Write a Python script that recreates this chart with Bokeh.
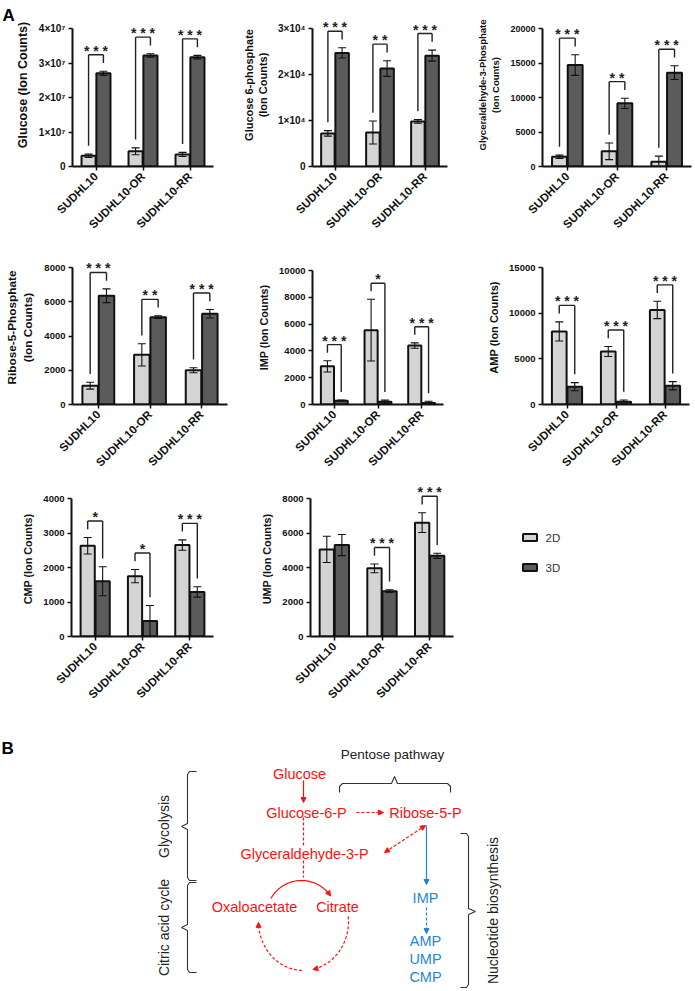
import math
import numpy as np
from bokeh.plotting import figure
from bokeh.models import (ColumnDataSource, FactorRange, Range1d, FixedTicker,
                          Label, Arrow, NormalHead)
from bokeh.transform import dodge
from bokeh.layouts import row, column
from bokeh.embed import file_html
from bokeh.resources import INLINE
from bokeh.core.properties import value

FONT = "Liberation Sans"
LIGHT = "#d4d4d4"
DARK = "#5b5b5b"
INK = "#111111"
RED = "#ff1010"
BLUE = "#1f86d5"
GREY_TXT = "#222222"

# ---------------- data ----------------
categories = ["SUDHL10", "SUDHL10-OR", "SUDHL10-RR"]
groups = ["2D", "3D"]

glucose_2d = [3.1e6, 4.4e6, 3.5e6]
glucose_2d_sem = [0.5e6, 1.0e6, 0.6e6]
glucose_3d = [2.70e7, 3.22e7, 3.17e7]
glucose_3d_sem = [0.06e7, 0.05e7, 0.05e7]
glucose_sig = ["***", "***", "***"]
glucose_ticks = [0, 1e7, 2e7, 3e7, 4e7]
glucose_tick_labels = ["0", "1×10⁷", "2×10⁷", "3×10⁷", "4×10⁷"]

g6p_2d = [7200, 7400, 9800]
g6p_2d_sem = [600, 2500, 400]
g6p_3d = [24700, 21300, 24100]
g6p_3d_sem = [1100, 1700, 1200]
g6p_sig = ["***", "**", "***"]
g6p_ticks = [0, 1e4, 2e4, 3e4]
g6p_tick_labels = ["0", "1×10⁴", "2×10⁴", "3×10⁴"]

ga3p_2d = [1400, 2200, 700]
ga3p_2d_sem = [250, 1200, 800]
ga3p_3d = [14700, 9150, 13600]
ga3p_3d_sem = [1500, 750, 1000]
ga3p_sig = ["***", "**", "***"]
ga3p_ticks = [0, 5000, 10000, 15000, 20000]
ga3p_tick_labels = ["0", "5000", "10000", "15000", "20000"]

r5p_2d = [1100, 2900, 2000]
r5p_2d_sem = [200, 650, 150]
r5p_3d = [6350, 5100, 5300]
r5p_3d_sem = [400, 80, 250]
r5p_sig = ["***", "**", "***"]
r5p_ticks = [0, 2000, 4000, 6000, 8000]
r5p_tick_labels = ["0", "2000", "4000", "6000", "8000"]

imp_2d = [2850, 5550, 4400]
imp_2d_sem = [420, 2300, 200]
imp_3d = [280, 200, 120]
imp_3d_sem = [60, 130, 120]
imp_sig = ["***", "*", "***"]
imp_ticks = [0, 2000, 4000, 6000, 8000, 10000]
imp_tick_labels = ["0", "2000", "4000", "6000", "8000", "10000"]

amp_2d = [8000, 5800, 10350]
amp_2d_sem = [1050, 550, 950]
amp_3d = [1950, 300, 2050]
amp_3d_sem = [450, 200, 450]
amp_sig = ["***", "***", "***"]
amp_ticks = [0, 5000, 10000, 15000]
amp_tick_labels = ["0", "5000", "10000", "15000"]

cmp_2d = [2630, 1750, 2650]
cmp_2d_sem = [240, 190, 150]
cmp_3d = [1600, 450, 1290]
cmp_3d_sem = [420, 450, 150]
cmp_sig = ["*", "*", "***"]
cmp_ticks = [0, 1000, 2000, 3000, 4000]
cmp_tick_labels = ["0", "1000", "2000", "3000", "4000"]

ump_2d = [5050, 3950, 6600]
ump_2d_sem = [760, 250, 570]
ump_3d = [5300, 2630, 4680]
ump_3d_sem = [610, 80, 150]
ump_sig = ["", "***", "***"]
ump_ticks = [0, 2000, 4000, 6000, 8000]
ump_tick_labels = ["0", "2000", "4000", "6000", "8000"]

OFF = 0.158
BW = 0.3


def bar_chart(ylabel, label_size, tick_size, m2, s2, m3, s3, sig, ticks, tick_labels,
              w, bl, br, fig_top, fig_h, axis_top, baseline):
    ymax = ticks[-1]
    frame_top = fig_top + 3
    y_end = ymax * (baseline - frame_top) / (baseline - axis_top)
    p = figure(width=w, height=fig_h,
               x_range=FactorRange(factors=categories),
               y_range=Range1d(0, y_end),
               output_backend="svg", toolbar_location=None,
               min_border_left=bl, min_border_right=br,
               min_border_top=3, min_border_bottom=fig_top + fig_h - baseline)
    p.xgrid.visible = False
    p.ygrid.visible = False
    p.outline_line_color = None
    p.background_fill_color = None

    hi2 = [m + s for m, s in zip(m2, s2)]
    lo2 = [max(0, m - s) for m, s in zip(m2, s2)]
    hi3 = [m + s for m, s in zip(m3, s3)]
    lo3 = [max(0, m - s) for m, s in zip(m3, s3)]
    src = ColumnDataSource(dict(cat=categories, m2=m2, lo2=lo2, hi2=hi2,
                                m3=m3, lo3=lo3, hi3=hi3))
    x2 = dodge("cat", -OFF, range=p.x_range)
    x3 = dodge("cat", OFF, range=p.x_range)
    p.vbar(x=x2, top="m2", width=BW, fill_color=LIGHT, line_color=INK,
           line_width=2, source=src)
    p.vbar(x=x3, top="m3", width=BW, fill_color=DARK, line_color=INK,
           line_width=2, source=src)
    for xx, lo, hi in ((x2, "lo2", "hi2"), (x3, "lo3", "hi3")):
        p.segment(x0=xx, y0=lo, x1=xx, y1=hi, line_color=INK, line_width=1.1, source=src)
        p.scatter(x=xx, y=hi, marker="dash", size=8, line_color=INK, line_width=1.1, source=src)
        p.scatter(x=xx, y=lo, marker="dash", size=8, line_color=INK, line_width=1.1, source=src)

    g = 0.06 * ymax
    idx = [i for i, s in enumerate(sig) if s]
    bsrc = ColumnDataSource(dict(
        cat=[categories[i] for i in idx],
        lb=[hi2[i] + g for i in idx],
        rb=[hi3[i] + g for i in idx],
        lvl=[max(hi2[i], hi3[i]) + 2 * g for i in idx],
        sig=[" ".join(sig[i]) for i in idx]))
    for kw in (dict(x0=x2, y0="lb", x1=x2, y1="lvl"),
               dict(x0=x2, y0="lvl", x1=x3, y1="lvl"),
               dict(x0=x3, y0="lvl", x1=x3, y1="rb")):
        p.segment(**kw, line_color="#222222", line_width=1.4, source=bsrc)
    p.text(x="cat", y="lvl", text="sig", source=bsrc, text_align="center",
           text_baseline="alphabetic", y_offset=-4, text_color="#222222",
           text_font=value(FONT), text_font_style="bold", text_font_size="14px")

    yax = p.yaxis[0]
    yax.ticker = FixedTicker(ticks=ticks)
    yax.major_label_overrides = {int(t): l for t, l in zip(ticks, tick_labels)}
    yax.bounds = (0, ymax)
    yax.axis_label = ylabel
    yax.axis_label_text_font = FONT
    yax.axis_label_text_font_style = "bold"
    yax.axis_label_text_font_size = label_size
    yax.axis_label_text_color = INK
    yax.axis_label_standoff = 6
    yax.major_label_text_font = FONT
    yax.major_label_text_font_style = "bold"
    yax.major_label_text_font_size = tick_size
    yax.major_label_text_color = INK
    yax.major_label_standoff = 3
    yax.major_tick_out = 4
    yax.major_tick_in = 0
    yax.minor_tick_out = 0
    yax.minor_tick_in = 0
    yax.axis_line_width = 2
    yax.major_tick_line_width = 1.5
    yax.axis_line_color = INK
    yax.major_tick_line_color = INK

    xax = p.xaxis[0]
    xax.major_label_orientation = math.pi / 4
    xax.major_label_text_font = FONT
    xax.major_label_text_font_style = "bold"
    xax.major_label_text_font_size = "11.5px"
    xax.major_label_text_color = INK
    xax.major_label_standoff = 4
    xax.major_tick_out = 4
    xax.major_tick_in = 0
    xax.axis_line_width = 2
    xax.major_tick_line_width = 1.5
    xax.axis_line_color = INK
    xax.major_tick_line_color = INK
    return p


# Row 1
f1 = bar_chart("Glucose (Ion Counts)", "12.5px", "10px",
               glucose_2d, glucose_2d_sem, glucose_3d, glucose_3d_sem,
               glucose_sig, glucose_ticks, glucose_tick_labels, 238, 70, 25, 0, 247, 28, 166)
f2 = bar_chart("Glucose 6-phosphate\n(Ion Counts)", "11px", "10px",
               g6p_2d, g6p_2d_sem, g6p_3d, g6p_3d_sem,
               g6p_sig, g6p_ticks, g6p_tick_labels, 230, 74, 21, 0, 247, 28, 166)
f3 = bar_chart("Glyceraldehyde-3-Phosphate\n(Ion Counts)", "9.5px", "9px",
               ga3p_2d, ga3p_2d_sem, ga3p_3d, ga3p_3d_sem,
               ga3p_sig, ga3p_ticks, ga3p_tick_labels, 227, 74, 4, 0, 247, 28, 166)
# Row 2 (frames in a row share top/bottom borders)
f4 = bar_chart("Ribose-5-Phosphate\n(Ion Counts)", "11.8px", "9.5px",
               r5p_2d, r5p_2d_sem, r5p_3d, r5p_3d_sem,
               r5p_sig, r5p_ticks, r5p_tick_labels, 238, 72, 11, 247, 231, 267, 404)
f5 = bar_chart("IMP (Ion Counts)", "10.8px", "9.5px",
               imp_2d, imp_2d_sem, imp_3d, imp_3d_sem,
               imp_sig, imp_ticks, imp_tick_labels, 230, 74, 25, 247, 231, 270, 404)
f6 = bar_chart("AMP (Ion Counts)", "11px", "9.5px",
               amp_2d, amp_2d_sem, amp_3d, amp_3d_sem,
               amp_sig, amp_ticks, amp_tick_labels, 227, 74, 6, 247, 231, 267, 404)
# Row 3
f7 = bar_chart("CMP (Ion Counts)", "10.8px", "9.5px",
               cmp_2d, cmp_2d_sem, cmp_3d, cmp_3d_sem,
               cmp_sig, cmp_ticks, cmp_tick_labels, 238, 71, 25, 478, 238, 498, 636)
f8 = bar_chart("UMP (Ion Counts)", "10.8px", "9.5px",
               ump_2d, ump_2d_sem, ump_3d, ump_3d_sem,
               ump_sig, ump_ticks, ump_tick_labels, 230, 72, 15, 478, 238, 498, 636)

# panel letter A, in the left side panel of the first chart
f1.add_layout(Label(x=2, y=161, x_units="screen", y_units="screen", text="A",
                    text_font=FONT, text_font_style="bold", text_font_size="17px",
                    text_color="#000000", text_align="left", text_baseline="top"), "left")

# legend figure: frame shares the row's borders; ranges in page pixels (y down)
fl = figure(width=227, height=238, x_range=Range1d(468, 695), y_range=Range1d(636, 481),
            output_backend="svg", toolbar_location=None,
            min_border_left=0, min_border_right=0, min_border_top=3, min_border_bottom=80,
            x_axis_location=None, y_axis_location=None)
fl.outline_line_color = None
fl.grid.visible = False
lsrc = ColumnDataSource(dict(label=groups, color=[LIGHT, DARK], y=[537, 567]))
fl.rect(x=529.5, y="y", width=14, height=7, fill_color="color", line_color=INK,
        line_width=2, source=lsrc)
fl.text(x=545, y="y", text="label", source=lsrc, text_baseline="middle",
        text_align="left", text_font=value(FONT), text_font_size="11.5px",
        text_color="#333333")

# ---------------- panel B (diagram, page-pixel coordinates) ----------------
pb = figure(width=695, height=273, x_range=Range1d(0, 695), y_range=Range1d(989, 716),
            output_backend="svg", toolbar_location=None, min_border=0,
            x_axis_location=None, y_axis_location=None)
pb.outline_line_color = None
pb.grid.visible = False


def lab(text, x, y, color, size="14.5px", bold=False, angle=0.0, align="center", base="middle"):
    pb.add_layout(Label(x=x, y=y, text=text, text_color=color, text_font=FONT,
                        text_font_size=size, text_font_style="bold" if bold else "normal",
                        angle=angle, text_align=align, text_baseline=base))


def arrow(x0, y0, x1, y1, color, dash="solid", both=False, size=5):
    def head():
        return NormalHead(size=size, fill_color=color, line_color=color, line_width=1)
    pb.add_layout(Arrow(x_start=x0, y_start=y0, x_end=x1, y_end=y1, end=head(),
                        start=head() if both else None, line_color=color,
                        line_width=1.2, line_dash=dash))


lab("B", 1, 738, "#000000", size="17px", bold=True, align="left", base="top")

# node labels
lab("Glucose", 299, 773, RED)
lab("Glucose-6-P", 306, 812, RED)
lab("Glyceraldehyde-3-P", 304, 853, RED)
lab("Oxaloacetate", 254, 906, RED)
lab("Citrate", 337, 906, RED)
lab("Ribose-5-P", 425, 812, RED)
lab("IMP", 425, 897, BLUE)
lab("AMP", 425, 940, BLUE)
lab("UMP", 425, 958, BLUE)
lab("CMP", 425, 976, BLUE)

# group labels
lab("Pentose pathway", 392, 754, GREY_TXT, size="13.5px")
lab("Glycolysis", 163, 826, GREY_TXT, size="14px", angle=math.pi / 2)
lab("Citric acid cycle", 163, 927, GREY_TXT, size="14px", angle=math.pi / 2)
lab("Nucleotide biosynthesis", 492, 910, GREY_TXT, size="14px", angle=math.pi / 2)

# braces
brace_kw = dict(line_color="#333333", line_width=1.1)
pb.line([196, 189, 187, 187, 181, 187, 187, 189, 196],
        [771, 771, 774, 823, 826, 829, 877, 880, 880], **brace_kw)
pb.line([196, 189, 187, 187, 181, 187, 187, 189, 196],
        [882, 882, 885, 924, 927, 930, 969, 972, 972], **brace_kw)
pb.line([460, 466, 468, 468, 475, 468, 468, 466, 460],
        [833, 833, 836, 908, 911, 914, 984, 987, 987], **brace_kw)
pb.line([339, 339, 342, 391, 394, 397, 447, 450, 450],
        [792, 786, 783, 783, 776, 783, 783, 786, 792], **brace_kw)

# straight arrows
arrow(303, 780, 303, 802, RED)
pb.line([303, 303], [817, 845], line_color=RED, line_width=1.2, line_dash="3 2")
pb.line([303, 303], [860, 877], line_color=RED, line_width=1.2, line_dash="3 2")
arrow(356, 812, 383, 812, RED, dash="3 2")
arrow(425, 825, 384, 852, RED, dash="3 2", both=True)
arrow(426, 825, 426, 884, BLUE)
arrow(426, 907, 426, 933, BLUE, dash="3 2")

# citric acid cycle arcs
t = np.radians(np.linspace(-151, -38, 40))
pb.line(301 + 35 * np.cos(t), 915 + 35 * np.sin(t), line_color=RED, line_width=1.2)
te = math.radians(-34)
ex, ey = 301 + 35 * math.cos(te), 915 + 35 * math.sin(te)
arrow(ex + 4 * math.sin(te), ey - 4 * math.cos(te), ex, ey, RED)

cx, cy, rx, ry = 303, 921, 45, 49
t1 = np.radians(np.linspace(-6, 74, 40))
pb.line(cx + rx * np.cos(t1), cy + ry * np.sin(t1), line_color=RED, line_width=1.2, line_dash="3 2")
tb = math.radians(78)
bx, by = cx + rx * math.cos(tb), cy + ry * math.sin(tb)
dx, dy = -rx * math.sin(tb), ry * math.cos(tb)
n = math.hypot(dx, dy)
arrow(bx - 4 * dx / n, by - 4 * dy / n, bx, by, RED)
t2 = np.radians(np.linspace(92, 174, 40))
pb.line(cx + rx * np.cos(t2), cy + ry * np.sin(t2), line_color=RED, line_width=1.2, line_dash="3 2")
tl = math.radians(179)
lx, ly = cx + rx * math.cos(tl), cy + ry * math.sin(tl)
dx, dy = -rx * math.sin(tl), ry * math.cos(tl)
n = math.hypot(dx, dy)
arrow(lx - 4 * dx / n, ly - 4 * dy / n, lx, ly, RED)

layout = column(row(f1, f2, f3), row(f4, f5, f6), row(f7, f8, fl), pb)
open("out.html", "w").write(file_html(layout, INLINE))
